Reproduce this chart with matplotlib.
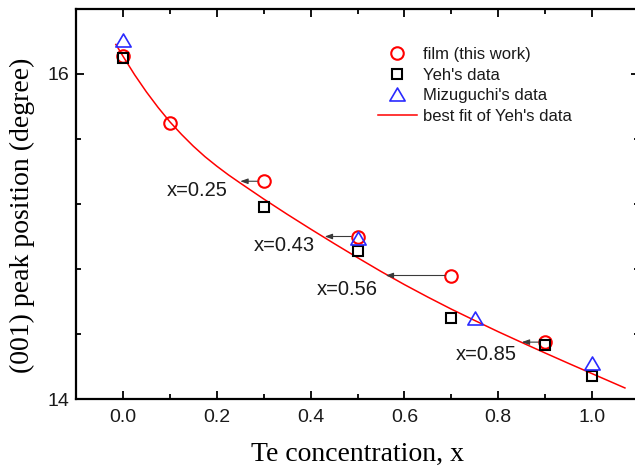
import matplotlib
matplotlib.use("Agg")
import matplotlib.pyplot as plt
from matplotlib.ticker import MultipleLocator, FixedLocator, FormatStrFormatter
from matplotlib.path import Path

# ---- data ----
film_x = [0.0, 0.1, 0.3, 0.5, 0.7, 0.9]
film_y = [16.11, 15.70, 15.34, 15.00, 14.76, 14.35]

yeh_x = [0.0, 0.3, 0.5, 0.7, 0.9, 1.0]
yeh_y = [16.10, 15.18, 14.91, 14.50, 14.33, 14.14]

mizu_x = [0.0, 0.5, 0.75, 1.0]
mizu_y = [16.21, 14.99, 14.50, 14.22]

fit_x = [-0.015, 0.0, 0.025, 0.05, 0.075, 0.10, 0.125, 0.15, 0.175, 0.20, 0.225,
         0.25, 0.30, 0.35, 0.40, 0.45, 0.50, 0.55, 0.60, 0.65, 0.70, 0.75, 0.80,
         0.85, 0.90, 0.95, 1.00, 1.07]
fit_y = [16.182, 16.110, 15.995, 15.890, 15.794, 15.706, 15.628, 15.556, 15.491,
         15.433, 15.379, 15.329, 15.231, 15.137, 15.046, 14.957, 14.870, 14.785,
         14.704, 14.627, 14.553, 14.483, 14.414, 14.348, 14.283, 14.219, 14.156,
         14.068]

arrow_from_x = [0.3, 0.5, 0.7, 0.9]
arrow_to_x = [0.25, 0.43, 0.56, 0.85]
arrow_y = [15.34, 15.00, 14.76, 14.35]
arrow_labels = ["x=0.25", "x=0.43", "x=0.56", "x=0.85"]
label_pos_x = [0.224, 0.409, 0.544, 0.840]
label_pos_y = [15.285, 14.942, 14.671, 14.271]

y_major = [14, 16]
y_minor = [14.4, 14.8, 15.2, 15.6, 16.4]

SANS = ["Liberation Sans", "DejaVu Sans"]
SERIF = ["Liberation Serif", "DejaVu Serif"]

fig = plt.figure(figsize=(6.35, 4.68), dpi=100)
ax = fig.add_axes([76/635, 1-399/468, 563/635, 390/468])

ax.plot(fit_x, fit_y, color="#ff0000", lw=1.1, zorder=2, label="best fit of Yeh's data")
ax.plot(film_x, film_y, ls="none", marker="o", ms=9, mfc="none", mec="#ff0000",
        mew=1.5, zorder=3, label="film (this work)")
ax.plot(yeh_x, yeh_y, ls="none", marker="s", ms=7.3, mfc="none", mec="black",
        mew=1.5, zorder=3, label="Yeh's data")
tri = Path([(-1, -0.85), (1, -0.85), (0, 0.85), (-1, -0.85)],
           [Path.MOVETO, Path.LINETO, Path.LINETO, Path.CLOSEPOLY])
ax.plot(mizu_x, mizu_y, ls="none", marker=tri, ms=11, mfc="none", mec="#2a2aff",
        mew=1.2, zorder=4, label="Mizuguchi's data")

for fx, tx, yy, lab, lx, ly in zip(arrow_from_x, arrow_to_x, arrow_y, arrow_labels,
                                   label_pos_x, label_pos_y):
    ax.annotate("", xy=(tx, yy), xytext=(fx, yy),
                arrowprops=dict(arrowstyle="-|>,head_length=0.45,head_width=0.16",
                                color="#3a3a3a", lw=0.8, shrinkA=4.6, shrinkB=0,
                                mutation_scale=10), zorder=5)
    ax.text(lx, ly, lab, ha="right", va="center", fontsize=14.5,
            family=SANS, color="#1a1a1a", zorder=5)

ax.set_xlim(-0.1, 1.1)
ax.set_ylim(14, 16.4)
ax.xaxis.set_major_locator(MultipleLocator(0.2))
ax.xaxis.set_minor_locator(MultipleLocator(0.1))
ax.yaxis.set_major_locator(FixedLocator(y_major))
ax.yaxis.set_minor_locator(FixedLocator(y_minor))
ax.xaxis.set_major_formatter(FormatStrFormatter("%.1f"))
ax.yaxis.set_major_formatter(FormatStrFormatter("%d"))

ax.tick_params(which="both", direction="in", top=True, right=True, width=1.3,
               colors="black")
ax.tick_params(which="major", length=5.5, labelsize=14)
ax.tick_params(axis="x", which="major", pad=7)
ax.tick_params(axis="y", which="major", pad=5)
ax.tick_params(which="minor", length=3.5)
for lab in ax.get_xticklabels() + ax.get_yticklabels():
    lab.set_family(SANS)
    lab.set_color("#1a1a1a")
for s in ax.spines.values():
    s.set_linewidth(1.6)

ax.set_xlabel("Te concentration, x", family=SERIF, fontsize=20, labelpad=11.5)
ax.set_ylabel("(001) peak position (degree)", family=SERIF, fontsize=20)
ax.yaxis.set_label_coords(-0.073, 0.47)

h, l = ax.get_legend_handles_labels()
order = [1, 2, 3, 0]
leg = ax.legend([h[i] for i in order], [l[i] for i in order], loc="upper left",
                bbox_to_anchor=(0.536, 0.902), frameon=False, numpoints=1,
                borderpad=0, borderaxespad=0, handlelength=2.35, handletextpad=0.35,
                labelspacing=0.33, prop={"family": SANS, "size": 12})
for t in leg.get_texts():
    t.set_color("#1a1a1a")

fig.savefig("out.png", dpi=100)
